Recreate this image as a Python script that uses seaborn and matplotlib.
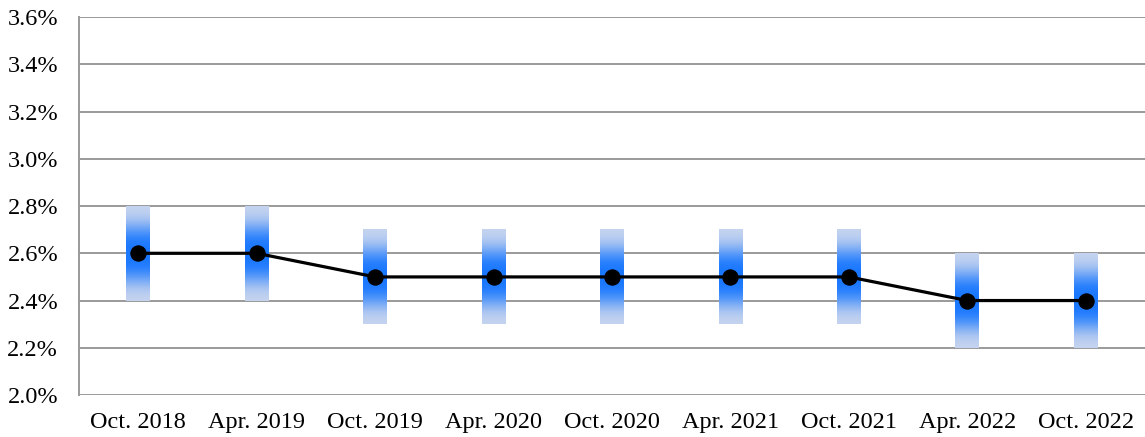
import numpy as np
import pandas as pd
import matplotlib.pyplot as plt
import seaborn as sns
from matplotlib.colors import LinearSegmentedColormap

# values (percent)
periods = ["Oct. 2018", "Apr. 2019", "Oct. 2019", "Apr. 2020", "Oct. 2020",
           "Apr. 2021", "Oct. 2021", "Apr. 2022", "Oct. 2022"]
rate = [2.6, 2.6, 2.5, 2.5, 2.5, 2.5, 2.5, 2.4, 2.4]
range_low = [2.4, 2.4, 2.3, 2.3, 2.3, 2.3, 2.3, 2.2, 2.2]
range_high = [2.8, 2.8, 2.7, 2.7, 2.7, 2.7, 2.7, 2.6, 2.6]
yticks = [2.0, 2.2, 2.4, 2.6, 2.8, 3.0, 3.2, 3.4, 3.6]

df = pd.DataFrame({"period": periods, "rate": rate})
df["pos"] = np.arange(len(df))

sns.set_style("white")
plt.rcParams['font.family'] = ['Liberation Serif', 'DejaVu Serif']

f, ax = plt.subplots(figsize=(11.45, 4.37), dpi=100)
f.subplots_adjust(left=0.069, right=1.0, bottom=0.096, top=0.961)

# vertical gradient for the range bars: pale at ends, bright blue at centre
cmap = LinearSegmentedColormap.from_list("band", ["#c6d4ef", "#1a78ff"])
t = np.linspace(-1, 1, 200)
grad = np.exp(-(np.abs(t) / 0.62) ** 3).reshape(-1, 1)

half_w = 0.1
for i, (lo, hi) in enumerate(zip(range_low, range_high)):
    ax.imshow(grad, cmap=cmap, vmin=0, vmax=1, aspect="auto",
              extent=(i - half_w, i + half_w, lo, hi), origin="lower",
              interpolation="bilinear", zorder=2)

sns.lineplot(data=df, x="pos", y="rate", color="black", linewidth=2.3,
             marker="o", markersize=11, markeredgecolor="black",
             ax=ax, zorder=3)

ax.set_xlim(-0.5, len(periods) - 0.5)
ax.set_ylim(2.0, 3.6)
ax.set_yticks(yticks)
ax.set_yticklabels([f"{v:.1f}%" for v in yticks])
ax.set_xticks(df["pos"])
ax.set_xticklabels(periods)
ax.set_xlabel("")
ax.set_ylabel("")
ax.tick_params(axis="both", length=0, labelsize=17.5, colors="black")
ax.tick_params(axis="y", pad=15)
ax.tick_params(axis="x", pad=12)

ax.grid(axis="y", color="#9a9a9a", linewidth=1.4, zorder=0)
ax.set_axisbelow(True)
for s in ["top", "right", "bottom"]:
    ax.spines[s].set_visible(False)
ax.spines["left"].set_color("#9a9a9a")
ax.spines["left"].set_linewidth(1.4)

f.savefig("out.png", dpi=100)
